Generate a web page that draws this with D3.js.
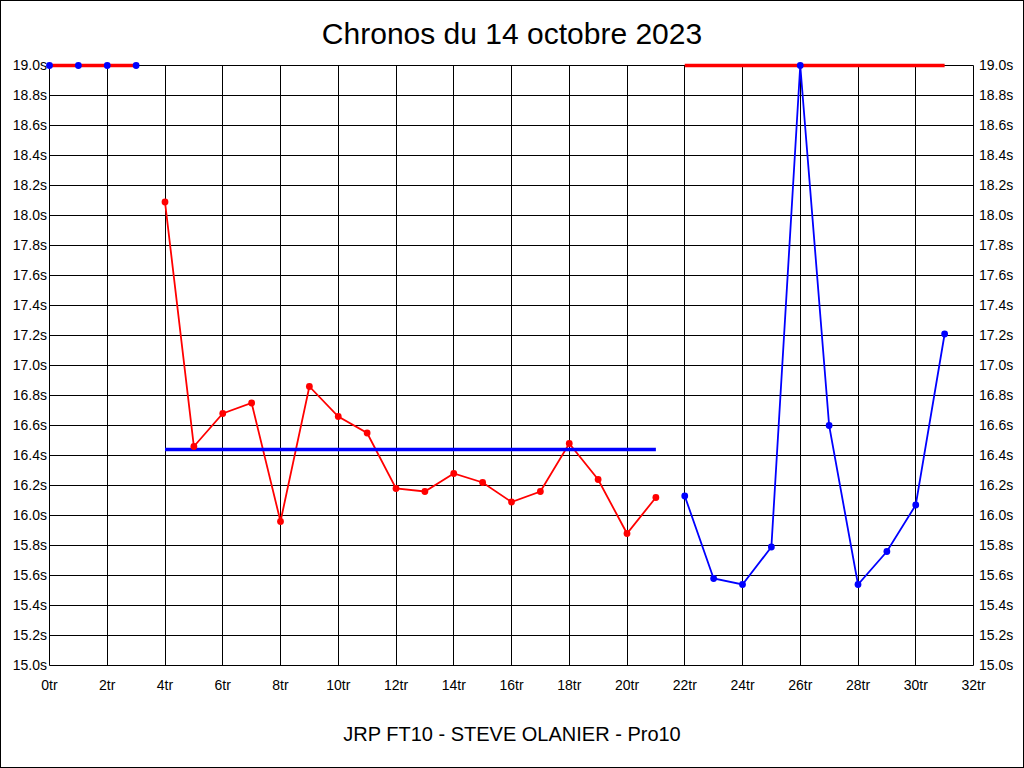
<!DOCTYPE html>
<html>
<head>
<meta charset="utf-8">
<script src="https://cdn.jsdelivr.net/npm/d3@7"></script>
<style>
  body { margin: 0; background: #fff; }
  text { font-family: "Liberation Sans", Arial, sans-serif; fill: #000; }
</style>
</head>
<body>
<svg width="1024" height="768"></svg>
<script>
// chart texts
var title = "Chronos du 14 octobre 2023";
var subtitle = "JRP FT10 - STEVE OLANIER - Pro10";

// ticks
var xTicks = d3.range(0, 33, 2);
var yTicks = d3.range(150, 191, 2).map(function(d){ return d / 10; });

// stint 0 : laps 0-3 (clamped at top)
var stint0Laps = [0, 1, 2, 3];
var stint0Times = [19.0, 19.0, 19.0, 19.0];
var stint0Avg = 19.0;

// stint 1 : laps 4-21
var stint1Laps = [4, 5, 6, 7, 8, 9, 10, 11, 12, 13, 14, 15, 16, 17, 18, 19, 20, 21];
var stint1Times = [18.09, 16.46, 16.68, 16.75, 15.96, 16.86, 16.66, 16.55, 16.18,
                   16.16, 16.28, 16.22, 16.09, 16.16, 16.48, 16.24, 15.88, 16.12];
var stint1Avg = 16.44;

// stint 2 : laps 22-31
var stint2Laps = [22, 23, 24, 25, 26, 27, 28, 29, 30, 31];
var stint2Times = [16.13, 15.58, 15.54, 15.79, 19.0, 16.60, 15.54, 15.76, 16.07, 17.21];
var stint2Avg = 19.0;

var stints = [
    {laps: stint0Laps, times: stint0Times, avg: stint0Avg, color: "#0000ff", avgColor: "#ff0000"},
    {laps: stint1Laps, times: stint1Times, avg: stint1Avg, color: "#ff0000", avgColor: "#0000ff"},
    {laps: stint2Laps, times: stint2Times, avg: stint2Avg, color: "#0000ff", avgColor: "#ff0000"}
];

var svg = d3.select("svg");

// outer frame
svg.append("rect")
    .attr("x", 0.5).attr("y", 0.5)
    .attr("width", 1023).attr("height", 767)
    .attr("fill", "none").attr("stroke", "#000");

// scales
var x = d3.scaleLinear().domain([0, 32]).range([49.5, 973.5]);
var y = d3.scaleLinear().domain([15, 19]).range([665.5, 65.5]);

// grid
svg.append("g").selectAll("line")
    .data(xTicks).enter().append("line")
    .attr("x1", function(d){ return Math.round(x(d) - 0.5) + 0.5; })
    .attr("x2", function(d){ return Math.round(x(d) - 0.5) + 0.5; })
    .attr("y1", y(15)).attr("y2", y(19))
    .attr("stroke", "#000");

svg.append("g").selectAll("line")
    .data(yTicks).enter().append("line")
    .attr("x1", x(0)).attr("x2", x(32))
    .attr("y1", function(d){ return y(d); })
    .attr("y2", function(d){ return y(d); })
    .attr("stroke", "#000");

// axis labels
svg.append("g").selectAll("text")
    .data(yTicks).enter().append("text")
    .attr("x", 47).attr("y", function(d){ return y(d); })
    .attr("dy", "0.35em")
    .attr("text-anchor", "end")
    .style("font-size", "14px")
    .text(function(d){ return d.toFixed(1) + "s"; });

svg.append("g").selectAll("text")
    .data(yTicks).enter().append("text")
    .attr("x", 979).attr("y", function(d){ return y(d); })
    .attr("dy", "0.35em")
    .style("font-size", "14px")
    .text(function(d){ return d.toFixed(1) + "s"; });

svg.append("g").selectAll("text")
    .data(xTicks).enter().append("text")
    .attr("x", function(d){ return x(d); }).attr("y", 690)
    .attr("text-anchor", "middle")
    .style("font-size", "14px")
    .text(function(d){ return d + "tr"; });

// series lines
var line = d3.line()
    .x(function(d){ return x(d[0]); })
    .y(function(d){ return y(d[1]); });

stints.forEach(function(s) {
    svg.append("path")
        .datum(d3.zip(s.laps, s.times))
        .attr("d", line)
        .attr("fill", "none")
        .attr("stroke", s.color)
        .attr("stroke-width", 1.8);
});

// average lines
stints.forEach(function(s) {
    svg.append("line")
        .attr("x1", x(s.laps[0]))
        .attr("x2", x(s.laps[s.laps.length - 1]))
        .attr("y1", y(s.avg)).attr("y2", y(s.avg))
        .attr("stroke", s.avgColor)
        .attr("stroke-width", 3.5);
});

// points
stints.forEach(function(s) {
    svg.append("g").selectAll("circle")
        .data(d3.zip(s.laps, s.times)).enter().append("circle")
        .attr("cx", function(d){ return x(d[0]); })
        .attr("cy", function(d){ return y(d[1]); })
        .attr("r", 3.4)
        .attr("fill", s.color);
});

// titles
svg.append("text")
    .attr("x", 512).attr("y", 44)
    .attr("text-anchor", "middle")
    .style("font-size", "30px")
    .text(title);

svg.append("text")
    .attr("x", 512).attr("y", 741)
    .attr("text-anchor", "middle")
    .style("font-size", "20px")
    .text(subtitle);
</script>
</body>
</html>
